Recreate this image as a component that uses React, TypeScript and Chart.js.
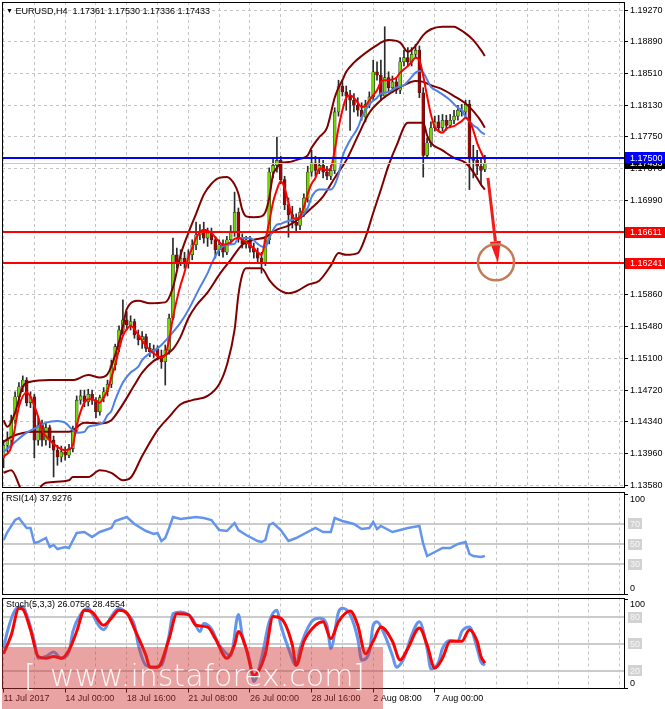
import React, { useEffect, useRef } from "react";
import { Chart, registerables } from "chart.js";

Chart.register(...registerables);

const FONT = '"Liberation Sans", Arial, sans-serif';

// EURUSD H4, bar 0 = 11 Jul 2017 08:00
const opens = [
  1.1391, 1.1406, 1.1412, 1.1436, 1.1464, 1.1476, 1.1484, 1.1457, 1.1464, 1.1412,
  1.1430, 1.1412, 1.1427, 1.1412, 1.1400, 1.1392, 1.1398, 1.1394, 1.1402, 1.1424,
  1.1460, 1.1465, 1.1458, 1.1467, 1.1460, 1.1446, 1.1463, 1.1470, 1.1479, 1.1502,
  1.1524, 1.1544, 1.1556, 1.1550, 1.1554, 1.1538, 1.1532, 1.1536, 1.1522, 1.1518,
  1.1521, 1.1513, 1.1506, 1.1520, 1.1558, 1.1634, 1.1625, 1.1630, 1.1623, 1.1634,
  1.1646, 1.1658, 1.1661, 1.1654, 1.1660, 1.1652, 1.1640, 1.1646, 1.1637, 1.1652,
  1.1661, 1.1685, 1.1654, 1.1647, 1.1652, 1.1642, 1.1637, 1.1630, 1.1625, 1.1652,
  1.1733, 1.1741, 1.1747, 1.1724, 1.1694, 1.1682, 1.1673, 1.1669, 1.1685, 1.1702,
  1.1733, 1.1744, 1.1735, 1.1741, 1.1733, 1.1728, 1.1735, 1.1805, 1.1836, 1.1829,
  1.1824, 1.1819, 1.1813, 1.1807, 1.1799, 1.1814, 1.1823, 1.1853, 1.1849, 1.1824,
  1.1846, 1.1834, 1.1841, 1.1831, 1.1865, 1.1870, 1.1865, 1.1874, 1.1879, 1.1828,
  1.1753, 1.1768, 1.1786, 1.1793, 1.1786, 1.1795, 1.1789, 1.1795, 1.1800, 1.1807,
  1.1805, 1.1814, 1.1751, 1.1747, 1.1740, 1.17361,
];
const highs = [
  1.1412, 1.1422, 1.1442, 1.1470, 1.1481, 1.1489, 1.1487, 1.1470, 1.1467, 1.1439,
  1.1436, 1.1433, 1.1430, 1.1417, 1.1406, 1.1405, 1.1404, 1.1407, 1.1429, 1.1465,
  1.1472, 1.1472, 1.1473, 1.1472, 1.1463, 1.1466, 1.1475, 1.1484, 1.1508, 1.1527,
  1.1549, 1.1580, 1.1566, 1.1561, 1.1557, 1.1544, 1.1542, 1.1539, 1.1528, 1.1526,
  1.1525, 1.1520, 1.1526, 1.1563, 1.1654, 1.1642, 1.1640, 1.1637, 1.1640, 1.1652,
  1.1673, 1.1670, 1.1673, 1.1666, 1.1666, 1.1656, 1.1652, 1.1652, 1.1656, 1.1669,
  1.1709, 1.1690, 1.1659, 1.1656, 1.1656, 1.1648, 1.1642, 1.1637, 1.1656, 1.1738,
  1.1750, 1.1775, 1.1752, 1.1728, 1.1702, 1.1692, 1.1683, 1.1690, 1.1707, 1.1740,
  1.1759, 1.1752, 1.1750, 1.1747, 1.1740, 1.1741, 1.1810, 1.1843, 1.1843, 1.1836,
  1.1831, 1.1827, 1.1822, 1.1816, 1.1819, 1.1829, 1.1867, 1.1865, 1.1867, 1.1907,
  1.1853, 1.1848, 1.1846, 1.1870, 1.1879, 1.1882, 1.1882, 1.1886, 1.1884, 1.1834,
  1.1774, 1.1793, 1.1800, 1.1801, 1.1802, 1.1801, 1.1802, 1.1807, 1.1813, 1.1814,
  1.1819, 1.1819, 1.1765, 1.1759, 1.1750, 1.1753,
];
const lows = [
  1.1379, 1.1398, 1.1406, 1.1432, 1.1454, 1.1470, 1.1453, 1.1451, 1.1391, 1.1406,
  1.1405, 1.1406, 1.1403, 1.1368, 1.1382, 1.1386, 1.1388, 1.1391, 1.1398, 1.1421,
  1.1455, 1.1452, 1.1453, 1.1455, 1.1439, 1.1442, 1.1458, 1.1465, 1.1475, 1.1496,
  1.1518, 1.1539, 1.1544, 1.1544, 1.1534, 1.1526, 1.1522, 1.1518, 1.1512, 1.1511,
  1.1508, 1.1498, 1.1478, 1.1515, 1.1556, 1.1618, 1.1621, 1.1618, 1.1618, 1.1628,
  1.1640, 1.1652, 1.1648, 1.1644, 1.1647, 1.1630, 1.1633, 1.1631, 1.1634, 1.1647,
  1.1656, 1.1649, 1.1642, 1.1642, 1.1637, 1.1630, 1.1625, 1.1612, 1.1621, 1.1647,
  1.1726, 1.1733, 1.1719, 1.1688, 1.1655, 1.1666, 1.1661, 1.1664, 1.1680, 1.1697,
  1.1728, 1.1728, 1.1731, 1.1726, 1.1724, 1.1724, 1.1731, 1.1800, 1.1824, 1.1807,
  1.1783, 1.1805, 1.1800, 1.1795, 1.1793, 1.1810, 1.1819, 1.1843, 1.1819, 1.1822,
  1.1829, 1.1828, 1.1827, 1.1827, 1.1860, 1.1860, 1.1860, 1.1870, 1.1822, 1.1727,
  1.1750, 1.1763, 1.1782, 1.1781, 1.1782, 1.1783, 1.1786, 1.1791, 1.1795, 1.1800,
  1.1800, 1.1712, 1.1726, 1.1730, 1.1718, 1.17336,
];
const closes = [
  1.1406, 1.1412, 1.1436, 1.1464, 1.1476, 1.1484, 1.1457, 1.1464, 1.1412, 1.1430,
  1.1412, 1.1427, 1.1412, 1.1400, 1.1392, 1.1398, 1.1394, 1.1402, 1.1424, 1.1460,
  1.1465, 1.1458, 1.1467, 1.1460, 1.1446, 1.1463, 1.1470, 1.1479, 1.1502, 1.1524,
  1.1544, 1.1556, 1.1550, 1.1554, 1.1538, 1.1532, 1.1536, 1.1522, 1.1518, 1.1521,
  1.1513, 1.1506, 1.1520, 1.1558, 1.1634, 1.1625, 1.1630, 1.1623, 1.1634, 1.1646,
  1.1658, 1.1661, 1.1654, 1.1660, 1.1652, 1.1640, 1.1646, 1.1637, 1.1652, 1.1661,
  1.1685, 1.1654, 1.1647, 1.1652, 1.1642, 1.1637, 1.1630, 1.1625, 1.1652, 1.1733,
  1.1741, 1.1747, 1.1724, 1.1694, 1.1682, 1.1673, 1.1669, 1.1685, 1.1702, 1.1733,
  1.1744, 1.1735, 1.1741, 1.1733, 1.1728, 1.1735, 1.1805, 1.1836, 1.1829, 1.1824,
  1.1819, 1.1813, 1.1807, 1.1799, 1.1814, 1.1823, 1.1853, 1.1849, 1.1824, 1.1846,
  1.1834, 1.1841, 1.1831, 1.1865, 1.1870, 1.1865, 1.1874, 1.1879, 1.1828, 1.1753,
  1.1768, 1.1786, 1.1793, 1.1786, 1.1795, 1.1789, 1.1795, 1.1800, 1.1807, 1.1805,
  1.1814, 1.1751, 1.1747, 1.1740, 1.1735, 1.17433,
];

// indicator lines, [bar, value]
const bbUpper = [
  [0, 1.1436], [1, 1.1428], [3, 1.1445], [5, 1.1476], [7, 1.1482], [12, 1.1484], [18, 1.1484],
  [22, 1.149], [25, 1.1487], [27, 1.1491], [29, 1.1514], [31, 1.1548], [32, 1.1569], [35, 1.1579],
  [38, 1.1576], [42, 1.1577], [44, 1.1595], [46, 1.1634], [48, 1.166], [50, 1.1683], [52, 1.1706],
  [54, 1.1719], [56, 1.1726], [58, 1.1727], [60, 1.1718], [61, 1.1707], [62, 1.1688], [63, 1.168],
  [65, 1.1679], [67, 1.168], [68, 1.1685], [69, 1.1702], [70, 1.173], [71, 1.1738], [72, 1.1744],
  [74, 1.1745], [77, 1.1749], [79, 1.1753], [80, 1.1762], [82, 1.1775], [84, 1.1786], [86, 1.1822],
  [87, 1.1834], [88, 1.1843], [89, 1.1853], [91, 1.1864], [93, 1.1872], [96, 1.1882], [100, 1.1891],
  [103, 1.1888], [105, 1.1877], [107, 1.1884], [109, 1.1897], [111, 1.1904], [114, 1.1907],
  [117, 1.1907], [118, 1.1905], [120, 1.1899], [122, 1.1891], [124, 1.1879], [125, 1.1872],
];
const bbMiddle = [
  [0, 1.141], [2, 1.1416], [8, 1.1422], [13, 1.1422], [17, 1.1422], [21, 1.1433], [25, 1.1432],
  [28, 1.1436], [30, 1.1448], [34, 1.1478], [36, 1.1493], [39, 1.1507], [42, 1.1514], [44, 1.1521],
  [46, 1.1536], [48, 1.1558], [50, 1.1573], [53, 1.1589], [56, 1.161], [59, 1.1628], [62, 1.1646],
  [65, 1.1652], [68, 1.1655], [71, 1.1664], [74, 1.1669], [77, 1.1678], [80, 1.169], [83, 1.1704],
  [86, 1.1726], [89, 1.1747], [92, 1.1776], [95, 1.1804], [98, 1.1819], [101, 1.1829], [104, 1.1837],
  [107, 1.1842], [109, 1.1841], [111, 1.1837], [114, 1.1832], [117, 1.1824], [120, 1.1815],
  [122, 1.1806], [124, 1.1794], [125, 1.1786],
];
const bbLower = [
  [0, 1.1373], [2, 1.1376], [5, 1.135], [8, 1.1346], [10, 1.1358], [11, 1.1361], [17, 1.1364],
  [18, 1.1368], [22, 1.1368], [25, 1.1376], [28, 1.1373], [31, 1.1364], [33, 1.1367], [36, 1.1393],
  [40, 1.1424], [43, 1.144], [46, 1.1455], [49, 1.146], [53, 1.1465], [56, 1.1479], [58, 1.1502],
  [60, 1.1544], [61, 1.1586], [62, 1.161], [63, 1.1618], [67, 1.1618], [69, 1.1604], [71, 1.1594],
  [74, 1.1588], [76, 1.159], [79, 1.1598], [82, 1.1603], [85, 1.1621], [87, 1.1636], [89, 1.1634],
  [92, 1.1636], [94, 1.1655], [96, 1.1684], [98, 1.1712], [100, 1.1741], [102, 1.1764], [105, 1.1792],
  [109, 1.1792], [110, 1.1777], [111, 1.1768], [114, 1.1759], [117, 1.175], [120, 1.1744],
  [122, 1.1733], [124, 1.1718], [125, 1.1712],
];
const fastMa = [
  [0, 1.1392], [2, 1.1404], [4, 1.1452], [6, 1.1469], [7, 1.1464], [9, 1.144], [10, 1.1424],
  [12, 1.1412], [14, 1.1404], [16, 1.14], [17, 1.1401], [18, 1.1406], [19, 1.143], [20, 1.1446],
  [21, 1.1457], [22, 1.1461], [23, 1.1461], [24, 1.1459], [25, 1.1457], [26, 1.1463], [27, 1.1472],
  [28, 1.1487], [29, 1.1502], [30, 1.1521], [31, 1.1537], [32, 1.1545], [33, 1.1549], [35, 1.1538],
  [37, 1.1525], [39, 1.1516], [41, 1.1511], [42, 1.1514], [43, 1.1532], [44, 1.1559], [45, 1.158],
  [46, 1.1598], [47, 1.1613], [48, 1.1631], [49, 1.1642], [50, 1.1654], [52, 1.1664], [54, 1.166],
  [55, 1.1655], [57, 1.1646], [59, 1.1649], [60, 1.1653], [61, 1.1654], [62, 1.1652], [64, 1.1646],
  [66, 1.1637], [67, 1.1634], [68, 1.1652], [69, 1.1673], [70, 1.1697], [71, 1.1712], [72, 1.1722],
  [73, 1.1714], [74, 1.1696], [75, 1.168], [76, 1.1677], [77, 1.168], [78, 1.1691], [79, 1.1707],
  [80, 1.1719], [81, 1.1726], [82, 1.1737], [83, 1.1737], [84, 1.1735], [85, 1.1738], [86, 1.1759],
  [87, 1.1786], [88, 1.1807], [89, 1.1822], [90, 1.1825], [91, 1.1822], [92, 1.1816], [93, 1.1811],
  [94, 1.1812], [95, 1.1819], [96, 1.1825], [97, 1.1831], [98, 1.1841], [99, 1.1843], [100, 1.1843],
  [101, 1.1844], [102, 1.1846], [103, 1.1852], [104, 1.1856], [105, 1.186], [106, 1.1865],
  [107, 1.187], [108, 1.1867], [109, 1.1848], [110, 1.1824], [111, 1.1802], [112, 1.1787],
  [113, 1.1782], [114, 1.178], [115, 1.1785], [116, 1.1787], [117, 1.1788], [118, 1.1791],
  [119, 1.1794], [120, 1.1798], [121, 1.1794], [122, 1.1783], [123, 1.1768], [124, 1.1757],
  [125, 1.1747],
];
const slowMa = [
  [0, 1.1398], [3, 1.141], [6, 1.1421], [9, 1.1428], [11, 1.1433], [14, 1.1435], [16, 1.1433],
  [18, 1.1424], [19, 1.1421], [21, 1.1422], [22, 1.1428], [24, 1.143], [26, 1.1434], [27, 1.1442],
  [28, 1.1447], [29, 1.146], [31, 1.1481], [33, 1.1493], [35, 1.15], [36, 1.1508], [38, 1.1516],
  [40, 1.1522], [41, 1.1526], [43, 1.1536], [46, 1.1553], [48, 1.1568], [51, 1.1595], [53, 1.1612],
  [54, 1.1623], [56, 1.164], [58, 1.1646], [60, 1.1647], [61, 1.1654], [64, 1.1654], [66, 1.1647],
  [67, 1.1644], [68, 1.1643], [69, 1.1654], [71, 1.167], [72, 1.1671], [73, 1.1673], [75, 1.1676],
  [77, 1.1679], [79, 1.169], [80, 1.1703], [82, 1.1712], [85, 1.1712], [87, 1.173], [88, 1.1751],
  [90, 1.1771], [92, 1.1786], [93, 1.1798], [95, 1.1814], [97, 1.1822], [98, 1.1827], [100, 1.1829],
  [102, 1.1834], [104, 1.1837], [106, 1.1847], [107, 1.1852], [108, 1.1854], [109, 1.1852],
  [111, 1.1835], [113, 1.1829], [116, 1.1819], [118, 1.181], [119, 1.1807], [120, 1.1799],
  [122, 1.1789], [123, 1.1786], [124, 1.1781], [125, 1.1778],
];
const rsi = [
  [0, 54], [1, 62], [3, 74], [4, 76], [6, 66], [7, 66], [8, 51], [9, 52], [11, 56], [12, 47],
  [13, 49], [14, 45], [16, 47], [17, 46], [19, 61], [21, 62], [23, 57], [25, 62], [28, 66],
  [29, 73], [32, 77], [34, 70], [37, 63], [39, 60], [40, 61], [41, 53], [42, 56], [43, 66],
  [44, 77], [46, 75], [48, 76], [50, 77], [52, 76], [54, 74], [56, 64], [58, 63], [59, 67],
  [60, 71], [61, 64], [63, 59], [66, 53], [67, 52], [68, 54], [69, 69], [70, 71], [72, 64],
  [74, 53], [76, 56], [78, 60], [81, 66], [83, 62], [85, 62], [86, 76], [88, 73], [91, 70],
  [93, 65], [95, 66], [96, 72], [97, 65], [98, 68], [101, 62], [103, 64], [105, 66], [108, 68],
  [109, 50], [110, 38], [112, 42], [114, 46], [116, 46], [118, 50], [120, 52], [121, 40],
  [122, 38], [124, 37], [125, 37.9276],
];
const stochK = [
  [0, 45], [1, 64], [3, 88], [5, 92], [6, 83], [8, 53], [9, 34], [11, 36], [13, 41], [15, 34],
  [17, 41], [18, 64], [20, 83], [22, 90], [23, 84], [25, 69], [26, 66], [28, 81], [30, 90],
  [32, 84], [34, 71], [35, 49], [37, 26], [39, 24], [41, 26], [43, 60], [44, 84], [46, 86],
  [49, 79], [51, 64], [52, 73], [54, 67], [56, 49], [59, 37], [61, 83], [62, 60], [64, 30],
  [65, 8], [67, 34], [69, 75], [71, 88], [72, 71], [74, 45], [76, 26], [77, 45], [80, 75],
  [82, 79], [84, 71], [85, 45], [87, 86], [88, 90], [90, 83], [92, 56], [93, 32], [95, 41],
  [96, 71], [97, 75], [99, 60], [101, 37], [102, 24], [104, 34], [106, 60], [108, 75], [110, 45],
  [111, 22], [113, 30], [114, 45], [116, 54], [118, 53], [119, 64], [121, 69], [123, 45],
  [124, 30], [125, 26.0756],
];
const stochD = [
  [0, 39], [2, 60], [4, 90], [5, 89], [7, 66], [9, 36], [11, 34], [13, 36], [15, 34], [17, 43],
  [19, 64], [21, 88], [23, 86], [26, 71], [28, 79], [30, 88], [32, 85], [34, 67], [37, 37],
  [38, 24], [40, 24], [43, 56], [45, 84], [48, 83], [50, 71], [53, 69], [55, 56], [58, 34],
  [60, 49], [61, 64], [63, 45], [65, 15], [68, 39], [70, 81], [72, 79], [75, 49], [76, 26],
  [78, 53], [81, 71], [83, 75], [85, 56], [87, 75], [90, 87], [92, 71], [94, 39], [96, 53],
  [98, 69], [101, 53], [103, 32], [105, 45], [108, 68], [110, 49], [112, 23], [114, 34],
  [116, 53], [119, 53], [121, 66], [123, 53], [124, 36], [125, 28.4554],
];

const priceTicks = [
  1.1358, 1.1396, 1.1434, 1.1472, 1.151, 1.1548, 1.1586, 1.1623, 1.1661, 1.1699, 1.1737, 1.1775,
  1.1813, 1.1851, 1.1889, 1.1927,
];
const gridBars = [0, 8, 16, 24, 32, 40, 48, 56, 64, 72, 80, 88, 96, 104, 112, 120, 128, 136, 144, 152, 160];
const timeLabelBars = [0, 16, 32, 48, 64, 80, 96, 112];
const timeLabels = [
  "11 Jul 2017", "14 Jul 00:00", "18 Jul 16:00", "21 Jul 08:00",
  "26 Jul 00:00", "28 Jul 16:00", "2 Aug 08:00", "7 Aug 00:00",
];

const resistance = 1.175;
const supports = [1.16611, 1.16241];
const rsiLevels = [70, 50, 30];
const stochLevels = [80, 50, 20];
const arrowFrom = [125.8, 1.1726];
const arrowTo = [128.4, 1.1624];
const target = [127.9, 1.1625];

const X_MIN = -0.4;
const X_MAX = 161.4;
const last = closes.length - 1;
const bidPrice = closes[last];

const xy = (pts: number[][]) => pts.map(([x, y]) => ({ x, y }));

const lineDs = (label: string, pts: number[][], color: string, width: number, smooth = true) => ({
  type: "line",
  label,
  data: xy(pts),
  borderColor: color,
  borderWidth: width,
  pointRadius: 0,
  fill: false,
  cubicInterpolationMode: smooth ? "monotone" : "default",
  tension: 0,
});

function xScale(showLabels: boolean) {
  return {
    type: "linear",
    min: X_MIN,
    max: X_MAX,
    offset: false,
    afterBuildTicks: (s: any) => {
      s.ticks = gridBars.map((v) => ({ value: v }));
    },
    ticks: showLabels
      ? {
          autoSkip: false,
          maxRotation: 0,
          align: "start",
          padding: 1,
          color: "#000",
          font: { family: FONT, size: 9 },
          callback: (v: any) => {
            const k = timeLabelBars.indexOf(Number(v));
            return k >= 0 ? timeLabels[k] : "";
          },
        }
      : { display: false },
    grid: {
      color: "#c4c4c4",
      offset: false,
      drawTicks: showLabels,
      tickLength: 4,
      tickBorderDash: [],
      tickColor: (c: any) => (c.tick && timeLabelBars.includes(c.tick.value) ? "#000" : "rgba(0,0,0,0)"),
    },
    border: { display: false, dash: [3, 3] },
    afterFit: (s: any) => {
      s.height = showLabels ? 20.5 : 0;
      s.paddingLeft = 0;
      s.paddingRight = 0;
    },
  };
}

// edge labels of the indicator panels sit just inside the panel, as in the terminal
const insetLabel = (v: number, min: number, max: number) =>
  v === max ? ["", String(v)] : v === min ? [String(v), ""] : String(v);

function yScale(min: number, max: number, ticks: number[], fmt: (v: number) => any, grid: boolean) {
  return {
    type: "linear",
    position: "right",
    min,
    max,
    beginAtZero: false,
    afterBuildTicks: (s: any) => {
      s.ticks = ticks.map((v) => ({ value: v }));
    },
    ticks: {
      autoSkip: false,
      padding: 2,
      color: "#000",
      font: { family: FONT, size: 9 },
      callback: (v: any) => fmt(Number(v)),
    },
    grid: {
      drawOnChartArea: grid,
      color: "#c4c4c4",
      drawTicks: true,
      tickLength: 3,
      tickColor: "#000",
      tickBorderDash: [],
    },
    border: { display: false, dash: [3, 3] },
    afterFit: (s: any) => {
      s.width = 40;
      s.paddingTop = 0;
      s.paddingBottom = 0;
    },
  };
}

const framePlugin = {
  id: "frame",
  afterDraw(chart: any) {
    const { ctx, chartArea: a } = chart;
    const l = Math.round(a.left) + 0.5;
    const t = Math.round(a.top) + 0.5;
    const r = Math.round(a.right) - 0.5;
    const b = Math.round(a.bottom) - 0.5;
    ctx.save();
    ctx.strokeStyle = "#000";
    ctx.lineWidth = 1;
    ctx.strokeRect(l, t, r - l, b - t);
    ctx.restore();
  },
};

function axisBox(chart: any, value: number, bg: string, fg: string, text: string, h = 11) {
  const { ctx, chartArea: a, scales } = chart;
  const py = scales.y.getPixelForValue(value);
  ctx.fillStyle = bg;
  ctx.fillRect(a.right, Math.round(py - h / 2), chart.width - a.right, h);
  ctx.fillStyle = fg;
  ctx.font = `9px ${FONT}`;
  ctx.textAlign = "left";
  ctx.textBaseline = "middle";
  ctx.fillText(text, a.right + 5, py + 0.5);
}

const mainOverlay = {
  id: "mainOverlay",
  afterDatasetsDraw(chart: any) {
    const { ctx, chartArea: a, scales } = chart;
    const { x, y } = scales;
    ctx.save();
    ctx.beginPath();
    ctx.rect(a.left, a.top, a.width, a.height);
    ctx.clip();
    const hline = (v: number, color: string, w: number) => {
      const py = Math.round(y.getPixelForValue(v)) + (w % 2 ? 0.5 : 0);
      ctx.strokeStyle = color;
      ctx.lineWidth = w;
      ctx.beginPath();
      ctx.moveTo(a.left, py);
      ctx.lineTo(a.right, py);
      ctx.stroke();
    };
    hline(bidPrice, "#c8c8c8", 1);
    hline(resistance, "#0000ff", 2);
    supports.forEach((v) => hline(v, "#ff0000", 2));

    // arrow
    const x0 = x.getPixelForValue(arrowFrom[0]);
    const y0 = y.getPixelForValue(arrowFrom[1]);
    const x1 = x.getPixelForValue(arrowTo[0]);
    const y1 = y.getPixelForValue(arrowTo[1]);
    const ang = Math.atan2(y1 - y0, x1 - x0);
    const head = 22;
    const half = 5.5;
    const bx = x1 - head * Math.cos(ang);
    const by = y1 - head * Math.sin(ang);
    ctx.strokeStyle = "#f21c1c";
    ctx.fillStyle = "#f21c1c";
    ctx.lineWidth = 3;
    ctx.beginPath();
    ctx.moveTo(x0, y0);
    ctx.lineTo(bx, by);
    ctx.stroke();
    ctx.beginPath();
    ctx.moveTo(x1, y1);
    ctx.lineTo(bx + half * Math.sin(ang), by - half * Math.cos(ang));
    ctx.lineTo(bx - half * Math.sin(ang), by + half * Math.cos(ang));
    ctx.closePath();
    ctx.fill();

    // target circle
    ctx.strokeStyle = "#c27d57";
    ctx.lineWidth = 2.5;
    ctx.beginPath();
    ctx.arc(x.getPixelForValue(target[0]), y.getPixelForValue(target[1]), 18, 0, Math.PI * 2);
    ctx.stroke();
    ctx.restore();
  },
  afterDraw(chart: any) {
    const { ctx } = chart;
    ctx.save();
    axisBox(chart, bidPrice, "#000", "#fff", bidPrice.toFixed(5));
    axisBox(chart, resistance, "#0000ff", "#fff", resistance.toFixed(5));
    supports.forEach((v) => axisBox(chart, v, "#ff0000", "#fff", v.toFixed(5)));
    ctx.restore();
  },
};

function levelPlugin(levels: number[]) {
  return {
    id: "levels",
    beforeDatasetsDraw(chart: any) {
      const { ctx, chartArea: a, scales } = chart;
      ctx.save();
      ctx.strokeStyle = "#cbcbcb";
      ctx.lineWidth = 2;
      levels.forEach((v) => {
        const py = Math.round(scales.y.getPixelForValue(v));
        ctx.beginPath();
        ctx.moveTo(a.left, py);
        ctx.lineTo(a.right, py);
        ctx.stroke();
      });
      ctx.restore();
    },
    afterDraw(chart: any) {
      const { ctx, chartArea: a, scales } = chart;
      ctx.save();
      ctx.font = `9px ${FONT}`;
      ctx.textAlign = "left";
      ctx.textBaseline = "middle";
      levels.forEach((v) => {
        const py = scales.y.getPixelForValue(v);
        const t = String(v);
        const w = ctx.measureText(t).width;
        ctx.fillStyle = "#d2d2d2";
        ctx.fillRect(a.right + 3, Math.round(py - 5.5), w + 4, 11);
        ctx.fillStyle = "#f7f7f7";
        ctx.fillText(t, a.right + 5, py + 0.5);
      });
      ctx.restore();
    },
  };
}

const baseOptions = (padding: any) => ({
  responsive: false,
  animation: false,
  events: [],
  layout: { padding },
  plugins: { legend: { display: false }, tooltip: { enabled: false } },
});

export default function App() {
  const mainRef = useRef<HTMLCanvasElement>(null);
  const rsiRef = useRef<HTMLCanvasElement>(null);
  const stochRef = useRef<HTMLCanvasElement>(null);

  useEffect(() => {
    if (!mainRef.current || !rsiRef.current || !stochRef.current) return;

    const main = new Chart(mainRef.current, {
      type: "bar",
      data: {
        datasets: [
          lineDs("MA fast", fastMa, "#ff0000", 2),
          lineDs("MA slow", slowMa, "#4f80e6", 2),
          lineDs("BB upper", bbUpper, "#800000", 2),
          lineDs("BB middle", bbMiddle, "#800000", 2),
          lineDs("BB lower", bbLower, "#800000", 2),
          {
            type: "bar",
            label: "body",
            data: opens.map((o, i) => ({ x: i, y: [o, closes[i]] })),
            backgroundColor: opens.map((o, i) => (closes[i] >= o ? "#74d600" : "#a80000")),
            borderColor: "#262626",
            borderWidth: 0.6,
            borderSkipped: false,
            barThickness: 3,
            grouped: false,
          },
          {
            type: "bar",
            label: "wick",
            data: lows.map((l, i) => ({ x: i, y: [l, highs[i]] })),
            backgroundColor: "#2a2a2a",
            borderWidth: 0,
            barThickness: 1,
            grouped: false,
          },
        ],
      } as any,
      options: {
        ...baseOptions({ left: 2, top: 2, right: 0, bottom: 12 }),
        scales: {
          x: xScale(false),
          y: yScale(1.13548, 1.19366, priceTicks, (v) => v.toFixed(5), true),
        },
      } as any,
      plugins: [mainOverlay, framePlugin],
    });

    const rsiChart = new Chart(rsiRef.current, {
      type: "line",
      data: {
        datasets: [lineDs("RSI(14)", rsi, "#6495ed", 2.5, false)],
      } as any,
      options: {
        ...baseOptions({ left: 2, top: 2.5, right: 0, bottom: 4 }),
        scales: {
          x: xScale(false),
          y: yScale(-1, 102.5, [0, 100], (v) => insetLabel(v, 0, 100), false),
        },
      } as any,
      plugins: [levelPlugin(rsiLevels), framePlugin],
    });

    const stoch = new Chart(stochRef.current, {
      type: "line",
      data: {
        datasets: [
          lineDs("%D", stochD, "#ff0000", 3),
          lineDs("%K", stochK, "#6495ed", 3),
        ],
      } as any,
      options: {
        ...baseOptions({ left: 2, top: 4.5, right: 0, bottom: 0 }),
        scales: {
          x: xScale(true),
          y: yScale(0, 102.2, [0, 100], (v) => insetLabel(v, 0, 100), false),
        },
      } as any,
      plugins: [levelPlugin(stochLevels), framePlugin],
    });

    return () => {
      main.destroy();
      rsiChart.destroy();
      stoch.destroy();
    };
  }, []);

  const label = { position: "absolute" as const, font: `9px ${FONT}`, color: "#000", whiteSpace: "pre" as const, lineHeight: "11px" };
  const wm = { position: "absolute" as const, top: 11, font: `200 30px "DejaVu Sans", ${FONT}`, color: "rgba(255,255,255,0.92)", lineHeight: "36px", whiteSpace: "pre" as const };

  return (
    <div style={{ position: "fixed", left: 0, top: 0, width: 665, height: 709, background: "#fff", overflow: "hidden" }}>
      <canvas ref={mainRef} width={665} height={500} style={{ position: "absolute", left: 0, top: 0 }} />
      <canvas ref={rsiRef} width={665} height={110} style={{ position: "absolute", left: 0, top: 489 }} />
      <canvas ref={stochRef} width={665} height={116} style={{ position: "absolute", left: 0, top: 593 }} />
      <div style={{ ...label, left: 6, top: 5 }}>
        <span style={{ fontSize: 7, verticalAlign: "1px" }}>▼</span>
        {` EURUSD,H4  ${opens[last].toFixed(5)} ${highs[last].toFixed(5)} ${lows[last].toFixed(5)} ${closes[last].toFixed(5)}`}
      </div>
      <div style={{ ...label, left: 6, top: 493 }}>{`RSI(14) ${rsi[rsi.length - 1][1].toFixed(4)}`}</div>
      <div style={{ ...label, left: 6, top: 599 }}>
        {`Stoch(5,3,3) ${stochK[stochK.length - 1][1].toFixed(4)} ${stochD[stochD.length - 1][1].toFixed(4)}`}
      </div>
      <div style={{ position: "absolute", left: 2, top: 647, width: 381, height: 62, background: "rgba(206,52,52,0.45)" }}>
        <div style={{ ...wm, left: 22 }}>[</div>
        <div style={{ ...wm, left: 48 }}>www.instaforex.com</div>
        <div style={{ ...wm, left: 351 }}>]</div>
      </div>
    </div>
  );
}
